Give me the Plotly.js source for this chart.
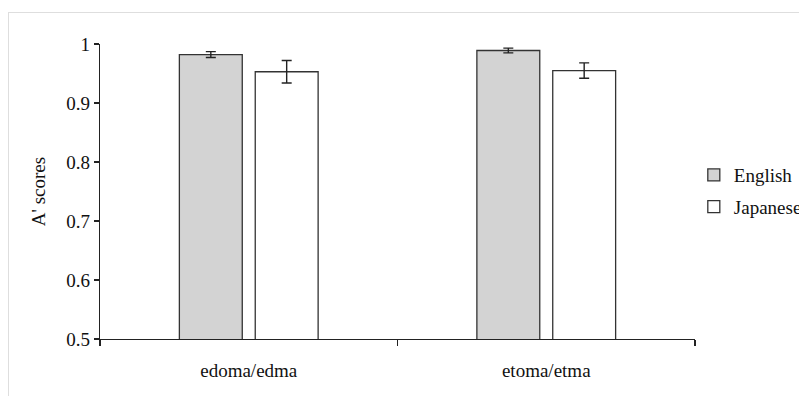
<!DOCTYPE html>
<html>
<head>
<meta charset="utf-8">
<script src="https://cdn.plot.ly/plotly-3.0.1.min.js"></script>
<style>
  html, body { margin: 0; padding: 0; background: #fff; }
  #wrap { position: relative; width: 799px; height: 396px; overflow: hidden; }
  #chart { position: absolute; left: 0; top: 0; width: 799px; height: 396px; }
  #frame { position: absolute; left: 8px; top: 12px; width: 900px; height: 500px;
           border-top: 1px solid #dedede; border-left: 1px solid #dedede; pointer-events: none; }
</style>
</head>
<body>
<div id="wrap">
  <div id="chart"></div>
  <div id="frame"></div>
</div>
<script>
const categories = ["edoma/edma", "etoma/etma"];
const englishScores = [0.982, 0.989];
const englishErrors = [0.005, 0.004];
const japaneseScores = [0.953, 0.955];
const japaneseErrors = [0.019, 0.013];
const yTickValues = [0.5, 0.6, 0.7, 0.8, 0.9, 1];
const yTickLabels = ["0.5", "0.6", "0.7", "0.8", "0.9", "1"];

const FONT = 'Liberation Serif';
const INK = '#222222';

const traces = [
  {
    type: 'bar', name: 'English', x: categories, y: englishScores,
    marker: { color: '#d3d3d3', line: { color: '#333333', width: 1.3 } },
    error_y: { type: 'data', array: englishErrors, visible: true, color: INK, thickness: 1.4, width: 5 },
    legendgroup: 'a'
  },
  {
    type: 'bar', name: 'Japanese', x: categories, y: japaneseScores,
    marker: { color: '#ffffff', line: { color: '#333333', width: 1.3 } },
    error_y: { type: 'data', array: japaneseErrors, visible: true, color: INK, thickness: 1.4, width: 5 },
    legendgroup: 'b'
  }
];

const layout = {
  width: 799, height: 396,
  margin: { l: 100, r: 104, t: 44, b: 57, autoexpand: false },
  paper_bgcolor: 'rgba(0,0,0,0)',
  plot_bgcolor: 'rgba(0,0,0,0)',
  font: { family: FONT, size: 19, color: '#111111' },
  barmode: 'group',
  bargap: 0.49,
  bargroupgap: 0.171,
  showlegend: true,
  legend: {
    x: 0.998, xanchor: 'left', y: 0.62, yanchor: 'top',
    font: { family: FONT, size: 19, color: '#111111' },
    tracegroupgap: 4,
    bgcolor: 'rgba(0,0,0,0)'
  },
  xaxis: {
    type: 'category',
    range: [-0.5, 1.5],
    showline: true, linecolor: INK, linewidth: 1.3,
    ticks: 'outside', tickson: 'boundaries', ticklen: 6, tickcolor: INK, tickwidth: 1.3,
    showgrid: false, zeroline: false,
    tickfont: { family: FONT, size: 19, color: '#111111' },
    ticklabelstandoff: 14,
    fixedrange: true
  },
  yaxis: {
    range: [0.5, 1],
    tickvals: yTickValues, ticktext: yTickLabels,
    showline: true, linecolor: INK, linewidth: 1.3,
    ticks: 'outside', ticklen: 5, tickcolor: INK, tickwidth: 1.3,
    showgrid: false, zeroline: false,
    tickfont: { family: FONT, size: 19, color: '#111111' },
    title: { text: "A' scores", font: { family: FONT, size: 19, color: '#111111' }, standoff: 15 },
    fixedrange: true
  }
};

Plotly.newPlot('chart', traces, layout, { displayModeBar: false, staticPlot: true });
</script>
</body>
</html>
